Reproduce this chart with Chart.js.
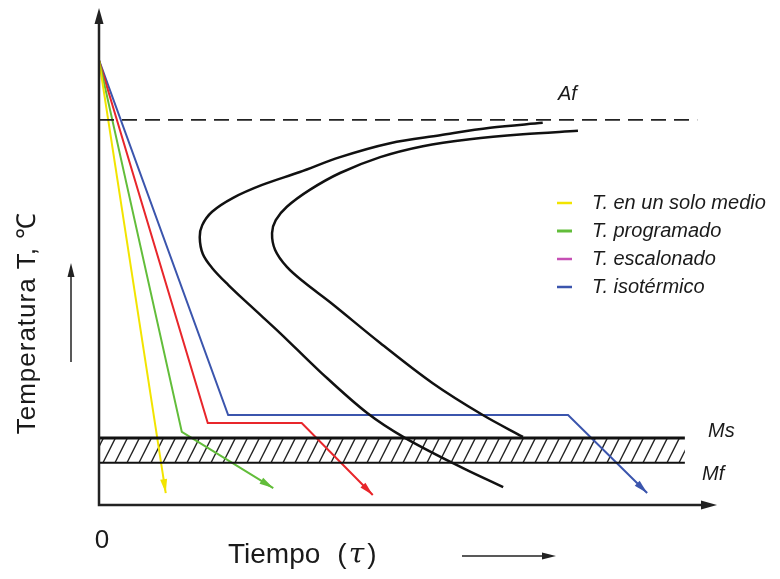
<!DOCTYPE html>
<html>
<head>
<meta charset="utf-8">
<script src="https://cdn.jsdelivr.net/npm/chart.js@4.4.0/dist/chart.umd.min.js"></script>
<style>
html, body { margin: 0; padding: 0; background: #fff; }
</style>
</head>
<body>
<canvas id="tttChart" width="780" height="579"></canvas>
<script>
// schematic units: time 0-100 (x), temperature 0-100 (y)
const startTemp = 89.5;
const afTemp = 77.5;
const msTemp = 13.5;
const mfTemp = 8.5;
const bandEnd = 94.8;
const afEnd = 96.8;

const seriesNames = ["T. en un solo medio", "T. programado", "T. escalonado", "T. isotérmico"];
const lineColors = ["#f2e400", "#62bd3a", "#e8262b", "#3b55ad"];
const legendColors = ["#f2e400", "#62bd3a", "#c64fb4", "#3b55ad"];

// cooling paths
const soloTime = [0, 10.8];
const soloTemp = [startTemp, 2.4];
const progTime = [0, 13.4, 28.2];
const progTemp = [startTemp, 14.7, 3.4];
const escTime = [0, 17.6, 32.8, 44.3];
const escTemp = [startTemp, 16.5, 16.5, 2.0];
const isoTime = [0, 20.9, 75.9, 88.7];
const isoTemp = [startTemp, 18.1, 18.1, 2.4];

// C curves: start and end of transformation
const startCurveTime = [71.8, 63.3, 55.2, 47.1, 39.0, 32.5, 26.4, 21.7, 18.3, 16.7, 16.3, 16.8, 18.3, 20.9, 24.4, 29.3, 35.8, 43.4, 49.5, 58.9, 65.4];
const startCurveTemp = [76.9, 75.9, 74.4, 72.8, 70.0, 67.0, 64.4, 61.8, 59.0, 56.3, 53.9, 50.5, 47.7, 44.3, 40.2, 34.6, 26.8, 18.5, 13.5, 7.4, 3.6];
const endCurveTime = [77.5, 68.6, 60.0, 52.4, 45.5, 39.0, 34.1, 30.4, 28.6, 28.0, 28.5, 30.4, 33.3, 37.4, 45.5, 54.0, 62.1, 68.6];
const endCurveTemp = [75.3, 74.6, 73.6, 72.2, 70.0, 66.8, 63.4, 60.0, 57.3, 54.7, 51.3, 47.9, 44.7, 40.8, 32.6, 24.5, 18.1, 13.7];

const xLabel = "Tiempo";
const xSymbol = "τ";
const yLabel = "Temperatura T, ℃";
const originTick = "0";

function toPoints(xs, ys) {
    return xs.map((x, i) => ({ x: x, y: ys[i] }));
}

function pathSet(label, xs, ys, color, width, extra) {
    return Object.assign({
        label: label,
        data: toPoints(xs, ys),
        showLine: true,
        borderColor: color,
        borderWidth: width,
        pointRadius: 0,
        fill: false,
        tension: 0
    }, extra || {});
}

const coolingSets = [
    pathSet(seriesNames[0], soloTime, soloTemp, lineColors[0], 2, { arrow: true }),
    pathSet(seriesNames[1], progTime, progTemp, lineColors[1], 2, { arrow: true }),
    pathSet(seriesNames[2], escTime, escTemp, lineColors[2], 2, { arrow: true }),
    pathSet(seriesNames[3], isoTime, isoTemp, lineColors[3], 2, { arrow: true })
];

const datasets = [
    pathSet("Af", [0, afEnd], [afTemp, afTemp], "#222", 1.6, { borderDash: [15, 8] }),
    pathSet("Ms", [0, bandEnd], [msTemp, msTemp], "#111", 3),
    pathSet("Mf", [0, bandEnd], [mfTemp, mfTemp], "#111", 2),
    pathSet("inicio", startCurveTime, startCurveTemp, "#111", 2.5, { tension: 0.35 }),
    pathSet("fin", endCurveTime, endCurveTemp, "#111", 2.5, { tension: 0.35 })
].concat(coolingSets);

function arrowHead(ctx, x1, y1, x2, y2, len, half, color) {
    const a = Math.atan2(y2 - y1, x2 - x1);
    ctx.save();
    ctx.fillStyle = color;
    ctx.beginPath();
    ctx.moveTo(x2, y2);
    ctx.lineTo(x2 - len * Math.cos(a) + half * Math.sin(a), y2 - len * Math.sin(a) - half * Math.cos(a));
    ctx.lineTo(x2 - len * Math.cos(a) - half * Math.sin(a), y2 - len * Math.sin(a) + half * Math.cos(a));
    ctx.closePath();
    ctx.fill();
    ctx.restore();
}

const diagramPlugin = {
    id: "diagram",
    beforeDatasetsDraw(chart) {
        const ctx = chart.ctx;
        const xs = chart.scales.x, ys = chart.scales.y;
        const x0 = xs.getPixelForValue(0), x1 = xs.getPixelForValue(bandEnd);
        const yTop = ys.getPixelForValue(msTemp), yBot = ys.getPixelForValue(mfTemp);
        const h = yBot - yTop;

        // hatched Ms-Mf band
        ctx.save();
        ctx.beginPath();
        ctx.rect(x0, yTop, x1 - x0, h);
        ctx.clip();
        ctx.strokeStyle = "#222";
        ctx.lineWidth = 1.4;
        for (let x = x0 - 20; x < x1 + 20; x += 12) {
            ctx.beginPath();
            ctx.moveTo(x, yBot);
            ctx.lineTo(x + h * 0.5, yTop);
            ctx.stroke();
        }
        ctx.restore();
    },
    afterDatasetsDraw(chart) {
        const ctx = chart.ctx;
        const area = chart.chartArea;
        const xs = chart.scales.x, ys = chart.scales.y;

        // arrowheads at the end of each cooling path
        chart.data.datasets.forEach((ds) => {
            if (!ds.arrow) return;
            const n = ds.data.length;
            const p = ds.data[n - 2], q = ds.data[n - 1];
            arrowHead(ctx, xs.getPixelForValue(p.x), ys.getPixelForValue(p.y),
                xs.getPixelForValue(q.x), ys.getPixelForValue(q.y), 14, 3.5, ds.borderColor);
        });

        // axes
        ctx.save();
        ctx.strokeStyle = "#222";
        ctx.lineWidth = 2.5;
        ctx.beginPath();
        ctx.moveTo(area.left, area.top + 10);
        ctx.lineTo(area.left, area.bottom);
        ctx.lineTo(area.right - 10, area.bottom);
        ctx.stroke();
        ctx.restore();
        arrowHead(ctx, area.left, area.bottom, area.left, area.top, 16, 4.5, "#222");
        arrowHead(ctx, area.left, area.bottom, area.right, area.bottom, 16, 4.5, "#222");

        // labels
        ctx.save();
        ctx.fillStyle = "#1a1a1a";
        ctx.textBaseline = "middle";
        ctx.font = "italic 20px 'Liberation Sans', Arial, sans-serif";
        ctx.textAlign = "center";
        ctx.fillText("Af", xs.getPixelForValue(75.8), ys.getPixelForValue(afTemp) - 25);
        ctx.textAlign = "left";
        ctx.fillText("Ms", area.right - 9, ys.getPixelForValue(msTemp) - 6);
        ctx.fillText("Mf", area.right - 15, ys.getPixelForValue(mfTemp) + 12);

        ctx.font = "26px 'Liberation Sans', Arial, sans-serif";
        ctx.textAlign = "center";
        ctx.fillText(originTick, area.left + 3, area.bottom + 36);

        ctx.font = "28px 'Liberation Sans', Arial, sans-serif";
        ctx.textAlign = "left";
        ctx.textBaseline = "alphabetic";
        const tx = 228, ty = area.bottom + 58;
        ctx.fillText(xLabel, tx, ty);
        let cx = tx + ctx.measureText(xLabel).width + 17;
        ctx.fillText("(", cx, ty);
        cx += ctx.measureText("(").width + 2;
        ctx.font = "italic 28px 'DejaVu Serif', serif";
        ctx.fillText(xSymbol, cx, ty);
        cx += ctx.measureText(xSymbol).width + 3;
        ctx.font = "28px 'Liberation Sans', Arial, sans-serif";
        ctx.fillText(")", cx, ty);

        // time arrow
        const ay = ty - 7;
        ctx.strokeStyle = "#222";
        ctx.lineWidth = 1.5;
        ctx.beginPath();
        ctx.moveTo(462, ay);
        ctx.lineTo(548, ay);
        ctx.stroke();
        arrowHead(ctx, 462, ay, 556, ay, 14, 3.5, "#222");

        // y label and its arrow
        ctx.save();
        ctx.translate(28, 323);
        ctx.rotate(-Math.PI / 2);
        ctx.textAlign = "center";
        ctx.textBaseline = "middle";
        ctx.font = "26px 'Liberation Sans', Arial, sans-serif";
        ctx.letterSpacing = "1px";
        ctx.fillText(yLabel, 0, 0);
        ctx.restore();
        ctx.beginPath();
        ctx.moveTo(71, 362);
        ctx.lineTo(71, 275);
        ctx.stroke();
        arrowHead(ctx, 71, 362, 71, 263, 14, 3.5, "#222");

        // legend
        ctx.font = "italic 20px 'Liberation Sans', Arial, sans-serif";
        ctx.textAlign = "left";
        ctx.textBaseline = "middle";
        seriesNames.forEach((name, i) => {
            const ly = 203 + i * 28;
            ctx.strokeStyle = legendColors[i];
            ctx.lineWidth = i === 1 ? 3 : 2.5;
            ctx.beginPath();
            ctx.moveTo(557, ly);
            ctx.lineTo(572, ly);
            ctx.stroke();
            ctx.fillStyle = "#1a1a1a";
            ctx.fillText(name, 592, ly);
        });
        ctx.restore();
    }
};

new Chart(document.getElementById("tttChart"), {
    type: "scatter",
    data: { datasets: datasets },
    options: {
        responsive: false,
        animation: false,
        layout: { padding: { left: 99, right: 63, top: 8, bottom: 74 } },
        scales: {
            x: { type: "linear", min: 0, max: 100, display: false },
            y: { type: "linear", min: 0, max: 100, display: false }
        },
        plugins: {
            legend: { display: false },
            tooltip: { enabled: false }
        }
    },
    plugins: [diagramPlugin]
});
</script>
</body>
</html>
